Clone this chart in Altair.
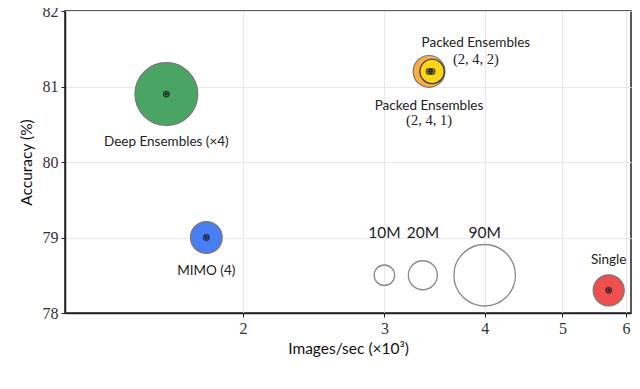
import altair as alt
import pandas as pd

# bubble data
names = ["Deep Ensembles", "MIMO", "Packed (2,4,1)", "Packed (2,4,2)", "Single"]
speed = [1.605, 1.80, 3.41, 3.44, 5.71]
acc = [80.9, 79.0, 81.2, 81.2, 78.3]
params = [94, 24, 24, 14, 23]
colors = ["#4aa564", "#4a7ef5", "#f7ac45", "#fbd51a", "#ee5050"]
strokes = ["#777777", "#777777", "#777777", "#333333", "#777777"]

# size legend bubbles
leg_labels = ["10M", "20M", "90M"]
leg_speed = [3.0, 3.35, 4.0]
leg_acc = [78.5, 78.5, 78.5]
leg_params = [10, 20, 90]

# text labels
sans_text = ["Deep Ensembles (×4)", "MIMO (4)", "Packed Ensembles", "Packed Ensembles", "Single",
             "10M", "20M", "90M"]
sans_x = [1.605, 1.80, 3.41, 3.90, 5.71, 3.0, 3.35, 4.0]
sans_y = [80.26, 78.55, 80.74, 81.57, 78.70, 79.06, 79.06, 79.06]
sans_size = [13.5, 13.5, 13.5, 13.5, 13.5, 15.5, 15.5, 15.5]
serif_text = ["(2, 4, 1)", "(2, 4, 2)"]
serif_x = [3.41, 3.90]
serif_y = [80.54, 81.35]

x_ticks = [2, 3, 4, 5, 6]
y_ticks = [78, 79, 80, 81, 82]

df = pd.DataFrame({"name": names, "speed": speed, "acc": acc, "params": params,
                   "color": colors, "stroke": strokes})
leg = pd.DataFrame({"name": leg_labels, "speed": leg_speed, "acc": leg_acc, "params": leg_params})
st = pd.DataFrame({"t": sans_text, "speed": sans_x, "acc": sans_y, "fs": sans_size})
se = pd.DataFrame({"t": serif_text, "speed": serif_x, "acc": serif_y})

SANS = "Lato"
SERIF = "Liberation Serif"

xs = alt.Scale(type="log", domain=[1.2, 6.087], nice=False)
ys = alt.Scale(domain=[78, 82], nice=False, zero=False)
ss = alt.Scale(type="linear", domain=[0, 100], range=[0, 4203], zero=True)

X = alt.X("speed:Q", scale=xs, title="Images/sec (×10³)",
          axis=alt.Axis(values=x_ticks, format="d", labelFont=SERIF, labelFontSize=16,
                        labelColor="#333", titleFont=SANS, titleFontSize=15.5,
                        titleFontWeight="normal", titleColor="#111", titlePadding=5,
                        domainColor="#222", domainWidth=1.5, tickColor="#222", tickSize=4,
                        gridColor="#e8e8e8", labelPadding=3))
Y = alt.Y("acc:Q", scale=ys, title="Accuracy (%)",
          axis=alt.Axis(values=y_ticks, format="d", labelFont=SERIF, labelFontSize=16,
                        labelColor="#333", titleFont=SANS, titleFontSize=15.5,
                        titleFontWeight="normal", titleColor="#111", titlePadding=8,
                        domainColor="#222", domainWidth=1.5, tickColor="#222", tickSize=4,
                        gridColor="#e8e8e8", labelPadding=3))

bubbles = alt.Chart(df).mark_circle(opacity=1, strokeWidth=1.2).encode(
    x=X, y=Y,
    size=alt.Size("params:Q", scale=ss, legend=None),
    color=alt.Color("color:N", scale=None),
    stroke=alt.Stroke("stroke:N", scale=None),
    order=alt.Order("params:Q", sort="descending"),
)

centers = alt.Chart(df).mark_point(shape="circle", size=28, filled=False, color="#111",
                                   strokeWidth=1.5).encode(x="speed:Q", y="acc:Q")
centers_in = alt.Chart(df).mark_circle(size=8, color="#222", opacity=1).encode(
    x="speed:Q", y="acc:Q")

legend_b = alt.Chart(leg).mark_circle(fillOpacity=0, stroke="#888", strokeWidth=1.3,
                                      opacity=1).encode(
    x="speed:Q", y="acc:Q", size=alt.Size("params:Q", scale=ss, legend=None))

t_sans = alt.Chart(st).mark_text(font=SANS, color="#222", baseline="middle").encode(
    x="speed:Q", y="acc:Q", text="t:N",
    size=alt.Size("fs:Q", scale=None))
t_serif = alt.Chart(se).mark_text(font=SERIF, fontSize=14.5, color="#222",
                                  baseline="middle").encode(
    x="speed:Q", y="acc:Q", text="t:N")

chart = alt.layer(bubbles, legend_b, centers, centers_in, t_sans, t_serif).properties(
    width=566, height=302,
    autosize=alt.AutoSizeParams(type="none"),
    padding={"left": 57, "top": 3, "right": 1, "bottom": 62},
).configure_view(stroke="#222", strokeWidth=1.5)

chart.save("out.html", embed_options={"renderer": "svg", "actions": False})
